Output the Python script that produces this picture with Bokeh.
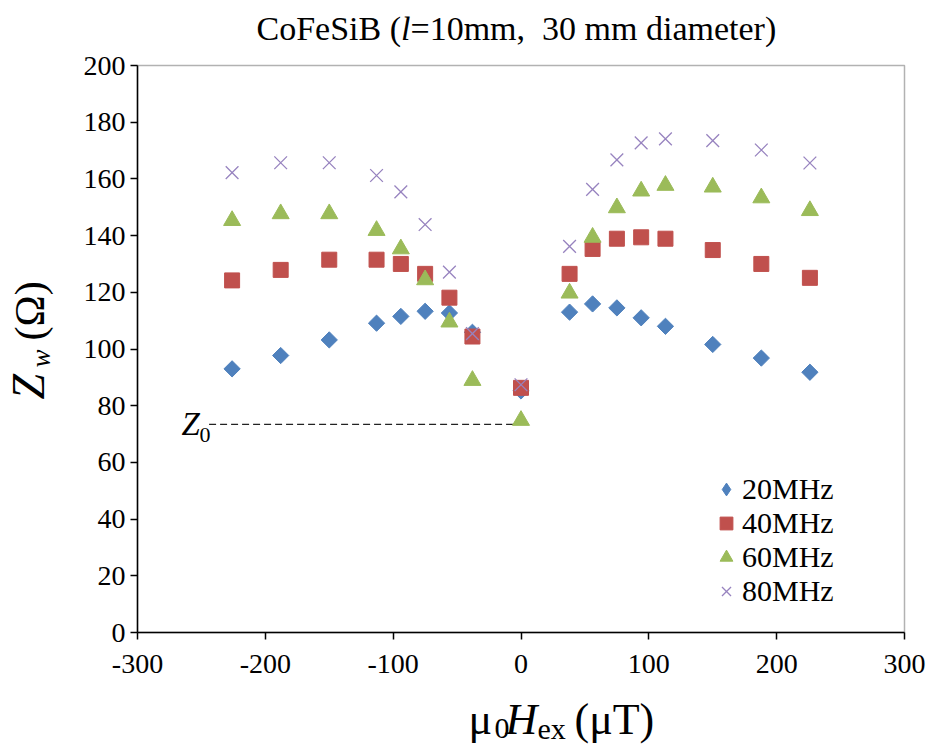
import numpy as np
from bokeh.plotting import figure
from bokeh.models import (Range1d, Label, FixedTicker, Legend, LegendItem,
                          LinearAxis, BoxAnnotation)
from bokeh.embed import file_html
from bokeh.resources import INLINE

# ---------------- data ----------------
H_ex = [-226, -188, -150, -113, -94, -75, -56, -38, 0, 38, 56, 75, 94, 113, 150, 188, 226]
z_20MHz = [93.0, 97.7, 103.2, 109.1, 111.5, 113.3, 112.7, 105.9, 85.2,
           113.0, 115.9, 114.5, 111.0, 108.0, 101.6, 96.8, 91.8]
z_40MHz = [124.2, 127.9, 131.5, 131.5, 130.0, 126.5, 118.1, 104.4, 86.3,
           126.5, 135.3, 138.9, 139.4, 138.9, 134.9, 130.0, 125.1]
z_60MHz = [145.3, 147.7, 147.7, 141.8, 135.3, 124.4, 109.5, 88.9, 74.8,
           119.7, 139.4, 149.8, 155.7, 157.7, 157.1, 153.3, 148.8]
z_80MHz = [162.2, 165.7, 165.7, 161.2, 155.4, 143.9, 127.1, 105.4, 87.4,
           136.2, 156.3, 166.7, 172.7, 174.1, 173.5, 170.2, 165.6]
series_labels = ["20MHz", "40MHz", "60MHz", "80MHz"]
x_ticks = [-300, -200, -100, 0, 100, 200, 300]
y_ticks = [0, 20, 40, 60, 80, 100, 120, 140, 160, 180, 200]
x_lim = (-300, 300)
y_lim = (0, 200)
z0_value = 73.4
z0_line_x = [-244, 0]

# ---------------- layout (pixels) ----------------
W, H = 934, 746
PL, PR, PT, PB = 137, 904, 65, 632     # plot-area edges on the canvas
SERIF = "Liberation Serif"

sx = (x_lim[1] - x_lim[0]) / (PR - PL)
sy = (y_lim[1] - y_lim[0]) / (PB - PT)
x_range = Range1d(x_lim[0] - PL * sx, x_lim[1] + (W - PR) * sx)
y_range = Range1d(y_lim[0] - (H - PB) * sy, y_lim[1] + PT * sy)

p = figure(width=W, height=H, x_range=x_range, y_range=y_range,
           x_axis_type=None, y_axis_type=None,
           output_backend="svg", toolbar_location=None)
p.min_border_left = 0
p.min_border_right = 0
p.min_border_top = 0
p.min_border_bottom = 0
p.title.visible = False
p.outline_line_color = None
p.background_fill_color = "white"
p.border_fill_color = "white"


def style_axis(ax):
    ax.axis_line_color = "black"
    ax.axis_line_width = 1.5
    ax.major_tick_line_color = "black"
    ax.major_tick_line_width = 1.5
    ax.major_tick_out = 7
    ax.major_tick_in = 0
    ax.minor_tick_out = 0
    ax.minor_tick_in = 0
    ax.minor_tick_line_color = None
    ax.major_label_text_font = SERIF
    ax.major_label_text_font_size = "28px"
    ax.major_label_text_color = "black"


xaxis = LinearAxis(fixed_location=y_lim[0], bounds=x_lim, ticker=FixedTicker(ticks=x_ticks))
style_axis(xaxis)
xaxis.major_label_overrides = {t: str(t) for t in x_ticks}
xaxis.major_label_standoff = 15
p.add_layout(xaxis, "below")

yaxis = LinearAxis(fixed_location=x_lim[0], bounds=y_lim, ticker=FixedTicker(ticks=y_ticks))
style_axis(yaxis)
yaxis.major_label_overrides = {t: str(t) for t in y_ticks}
yaxis.major_label_standoff = 5
p.add_layout(yaxis, "left")

# plot-area frame
p.add_layout(BoxAnnotation(left=x_lim[0], right=x_lim[1], bottom=y_lim[0], top=y_lim[1],
                           fill_color=None, fill_alpha=0, line_color="black", line_width=1.5))

# Z0 reference line
p.line(z0_line_x, [z0_value, z0_value], line_color="#222222", line_width=1.3, line_dash="7 4")

BLUE, RED, GREEN, PURPLE = "#4F81BD", "#C0504D", "#9BBB59", "#9783BF"
r20 = p.scatter(H_ex, z_20MHz, marker="square", angle=np.pi / 4, size=11.5,
                fill_color=BLUE, line_color=BLUE)
r40 = p.scatter(H_ex, z_40MHz, marker="square", size=15, fill_color=RED, line_color=RED)
r60 = p.scatter(H_ex, z_60MHz, marker="triangle", size=17, fill_color=GREEN, line_color=GREEN)
r80 = p.scatter(H_ex, z_80MHz, marker="x", size=18, line_color=PURPLE, line_width=1.3)
# legend key for the diamond series (zero-size on the plot itself)
r20_key = p.scatter(H_ex, z_20MHz, marker="diamond", size=0, fill_color=BLUE, line_color=BLUE)

legend = Legend(items=[LegendItem(label=lab, renderers=[r]) for lab, r in
                       zip(series_labels, [r20_key, r40, r60, r80])],
                location=(710, H - 608), orientation="vertical",
                glyph_width=32, glyph_height=34, label_standoff=0, spacing=-2,
                padding=0, margin=0, border_line_color=None,
                background_fill_alpha=0.0,
                label_text_font=SERIF, label_text_font_size="30px",
                label_text_color="black")
p.add_layout(legend)

MID = 0.36  # baseline -> middle offset (fraction of font size)


def lab(x, base_y, text, size, style="normal"):
    """x, base_y in canvas pixels from the top-left; base_y is the text baseline."""
    p.add_layout(Label(x=x, y=H - (base_y - MID * size), x_units="screen", y_units="screen",
                       text=text, text_font=SERIF, text_font_size=f"{size}px",
                       text_font_style=style, text_color="black",
                       text_align="left", text_baseline="middle"))


def vlab(base_x, start_y, text, size, style="normal"):
    """rotated (bottom-to-top) text; base_x = baseline x, start_y = where the text starts."""
    p.add_layout(Label(x=base_x - MID * size, y=H - start_y, x_units="screen", y_units="screen",
                       text=text, text_font=SERIF, text_font_size=f"{size}px",
                       text_font_style=style, text_color="black",
                       text_align="left", text_baseline="middle", angle=np.pi / 2))


# title: CoFeSiB (l=10mm,  30 mm diameter)
lab(256, 40, "CoFeSiB (", 34)
lab(400.5, 40, "l", 34, "italic")
lab(410, 40, "=10mm,", 34)
lab(541.6, 40, "30 mm diameter)", 34)

# x-axis label: mu0 Hex (muT)
lab(468, 735, "\u03bc", 44)
lab(494, 739, "0", 30)
lab(505, 735, "H", 44, "italic")
lab(537, 739, "ex", 30)
lab(574, 735, "(\u03bcT)", 44)

# y-axis label: Zw (Ohm), rotated
vlab(45, 399, "Z", 46, "italic")
vlab(50, 367, "w", 27, "italic")
vlab(45, 340, "(\u03a9)", 42)

# Z0 label
lab(181, 435, "Z", 33, "italic")
lab(199, 442, "0", 22)

open("out.html", "w").write(file_html(p, INLINE))
